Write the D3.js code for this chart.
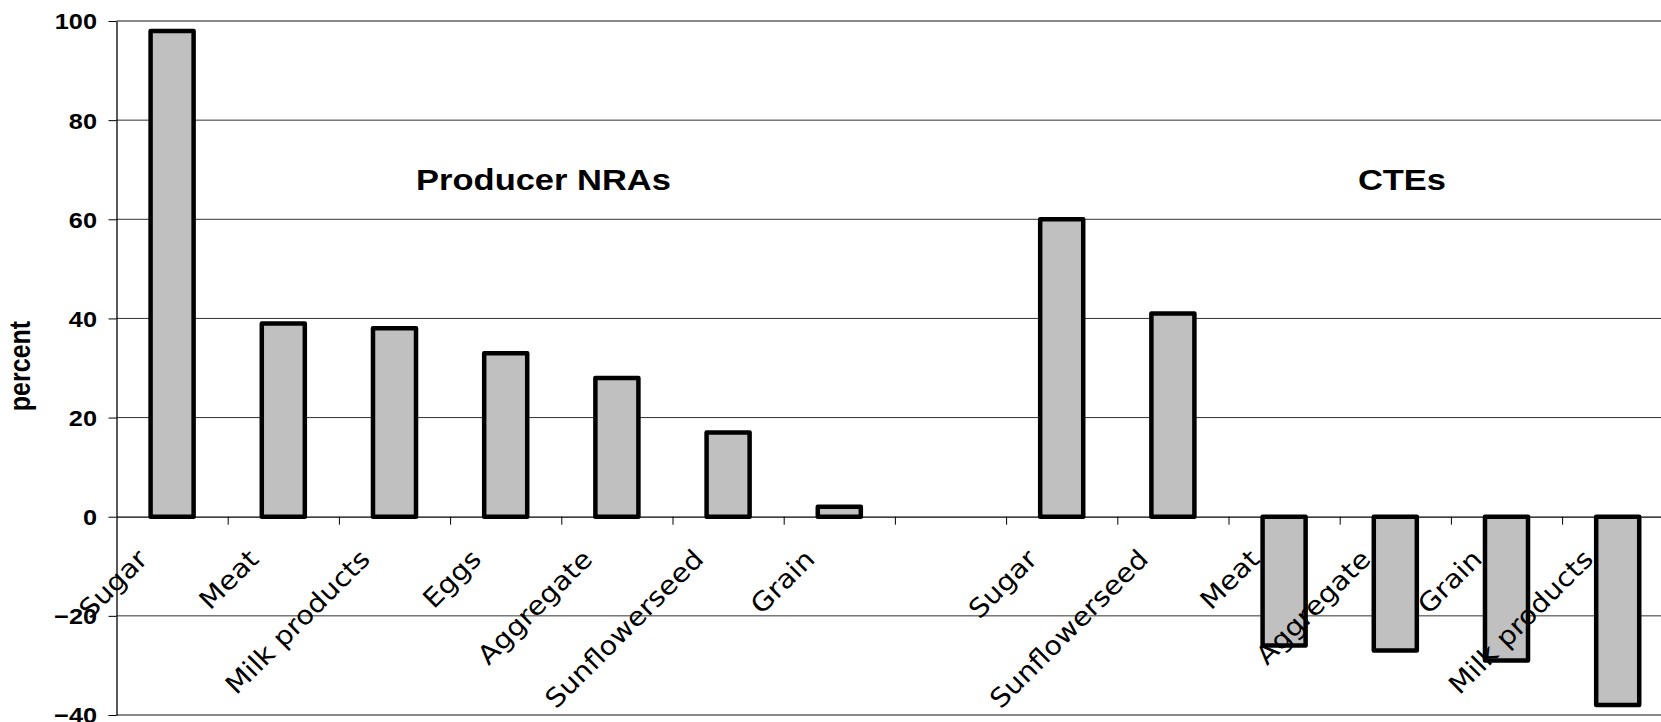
<!DOCTYPE html>
<html>
<head>
<meta charset="utf-8">
<script src="https://cdn.jsdelivr.net/npm/d3@7"></script>
<style>
  body { margin: 0; background: #fff; overflow: hidden; }
  svg { display: block; }
</style>
</head>
<body>
<div id="chart"></div>
<script>
/* Chart data */
var nraLabels = ["Sugar", "Meat", "Milk products", "Eggs", "Aggregate", "Sunflowerseed", "Grain"];
var nraValues = [98, 39, 38, 33, 28, 17, 2];
var cteLabels = ["Sugar", "Sunflowerseed", "Meat", "Aggregate", "Grain", "Milk products"];
var cteValues = [60, 41, -26, -27, -29, -38];
var yTicks = [-40, -20, 0, 20, 40, 60, 80, 100];
var groupTitles = ["Producer NRAs", "CTEs"];

var W = 1661, H = 722;
var plotLeft = 116.5, plotTop = 21, plotBottom = 715;
var step = 111.2;

// one blank slot between the two groups
var rows = [];
nraLabels.forEach(function(l, i) { rows.push({id: 'n' + i, label: l, value: nraValues[i]}); });
rows.push({id: 'gap', label: '', value: null});
cteLabels.forEach(function(l, i) { rows.push({id: 'c' + i, label: l, value: cteValues[i]}); });

var plotRight = plotLeft + step * rows.length;

var x = d3.scaleBand()
  .domain(rows.map(function(d) { return d.id; }))
  .range([plotLeft, plotRight])
  .paddingInner(0.613)
  .paddingOuter(0.3065);
var xIdx = d3.scaleLinear().domain([0, rows.length]).range([plotLeft, plotRight]);
var y = d3.scaleLinear().domain([-40, 100]).range([plotBottom, plotTop]);

var svg = d3.select('#chart').append('svg')
  .attr('width', W).attr('height', H);

// gridlines
svg.append('g').selectAll('line')
  .data(yTicks.filter(function(t) { return t != 0 && t != 100 && t != -40; }))
  .enter().append('line')
  .attr('x1', plotLeft).attr('x2', plotRight)
  .attr('y1', function(d) { return y(d); }).attr('y2', function(d) { return y(d); })
  .attr('stroke', '#333').attr('stroke-width', 1);

// plot area border top/bottom
[100, -40].forEach(function(v) {
  svg.append('line')
    .attr('x1', plotLeft).attr('x2', plotRight)
    .attr('y1', y(v)).attr('y2', y(v))
    .attr('stroke', '#888').attr('stroke-width', 2);
});

// y axis
var yAxis = svg.append('g')
  .attr('transform', 'translate(' + plotLeft + ',0)')
  .call(d3.axisLeft(y).tickValues(yTicks).tickSize(8).tickSizeOuter(0));
yAxis.select('.domain').attr('stroke', '#000').attr('stroke-width', 1.3);
yAxis.selectAll('.tick line').attr('stroke', '#000');
yAxis.selectAll('.tick text')
  .attr('x', null)
  .attr('dy', '0.36em')
  .attr('transform', 'translate(-19.5,0) scale(1.15,1)')
  .style('font-family', '"Liberation Sans", Arial, sans-serif')
  .style('font-weight', 'bold')
  .style('font-size', '22px')
  .attr('fill', '#000');

// bars
svg.append('g').selectAll('rect')
  .data(rows.filter(function(d) { return d.value !== null; }))
  .enter().append('rect')
  .attr('x', function(d) { return x(d.id); })
  .attr('width', x.bandwidth())
  .attr('y', function(d) { return y(Math.max(0, d.value)); })
  .attr('height', function(d) { return Math.abs(y(d.value) - y(0)); })
  .attr('fill', '#c0c0c0')
  .attr('stroke', '#000')
  .attr('stroke-width', 4.5)
  .attr('stroke-linejoin', 'round');

// x axis at zero, ticks between categories
var xAxis = svg.append('g')
  .attr('transform', 'translate(0,' + y(0) + ')')
  .call(d3.axisBottom(xIdx).tickValues(d3.range(1, rows.length)).tickSize(8).tickSizeOuter(0).tickFormat(''));
xAxis.select('.domain').attr('stroke', '#000').attr('stroke-width', 1.3);
xAxis.selectAll('.tick line').attr('stroke', '#000');

// category labels, rotated
svg.append('g').selectAll('text')
  .data(rows.filter(function(d) { return d.label; }))
  .enter().append('text')
  .attr('transform', function(d) {
    var cx = x(d.id) + x.bandwidth() / 2;
    return 'translate(' + (cx - 23) + ',' + (y(0) + 44) + ') rotate(-45) scale(1.1,1)';
  })
  .attr('text-anchor', 'end')
  .style('font-family', '"DejaVu Sans", Verdana, sans-serif')
  .style('font-size', '26px')
  .attr('fill', '#000')
  .text(function(d) { return d.label; });

// group titles
var titlePos = [3.84, 11.56];
groupTitles.forEach(function(t, i) {
  svg.append('text')
    .attr('transform', 'translate(' + xIdx(titlePos[i]) + ',' + y(66) + ') scale(1.15,1)')
    .attr('text-anchor', 'middle')
    .style('font-family', '"Liberation Sans", Arial, sans-serif')
    .style('font-weight', 'bold')
    .style('font-size', '30px')
    .text(t);
});

// y axis title
svg.append('text')
  .attr('transform', 'translate(30,366) scale(1.15,1) rotate(-90)')
  .attr('text-anchor', 'middle')
  .style('font-family', '"Liberation Sans", Arial, sans-serif')
  .style('font-weight', 'bold')
  .style('font-size', '25px')
  .text('percent');
</script>
</body>
</html>
